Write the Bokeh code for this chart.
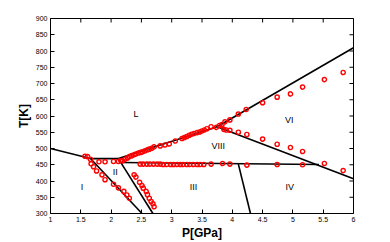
import math
from bokeh.plotting import figure
from bokeh.models import FixedTicker, Range1d
from bokeh.embed import file_html
from bokeh.resources import INLINE
from bokeh.core.properties import value

# ---- data ----
x_ticks = [1, 1.5, 2, 2.5, 3, 3.5, 4, 4.5, 5, 5.5, 6]
x_tick_labels = ["1", "1.5", "2", "2.5", "3", "3.5", "4", "4.5", "5", "5.5", "6"]
y_ticks = [300, 350, 400, 450, 500, 550, 600, 650, 700, 750, 800, 850, 900]
y_tick_labels = ["300", "350", "400", "450", "500", "550", "600", "650", "700", "750", "800", "850", "900"]

# simulated points (open red circles)
p_I_II = [1.57, 1.61, 1.66, 1.67, 1.71, 1.76, 1.85, 1.90, 2.04, 2.12, 2.21, 2.26, 2.30]
t_I_II = [476, 475, 467, 453, 444, 431, 419, 404, 390, 379, 368, 357, 347]

p_II_top = [1.80, 1.90, 2.04, 2.12, 2.16]
t_II_top = [459, 459, 460, 460, 463]

p_melt = [2.19, 2.23, 2.27, 2.30, 2.34, 2.38, 2.41, 2.45, 2.49, 2.52, 2.56, 2.60, 2.63,
          2.67, 2.71, 2.81, 2.89, 2.96, 3.06, 3.17, 3.21, 3.25, 3.29, 3.33, 3.37, 3.42,
          3.46, 3.50, 3.54, 3.58, 3.65, 3.79, 3.83, 3.88, 3.96, 4.10, 4.23, 4.50, 4.74,
          4.96, 5.16, 5.52, 5.83]
t_melt = [462, 467, 471, 475, 478, 481, 483, 486, 488, 490, 493, 496, 498,
          501, 505, 508, 511, 514, 523, 531, 534, 537, 541, 544, 546, 549,
          551, 554, 557, 561, 567, 571, 574, 582, 588, 606, 620, 641, 658,
          668, 689, 712, 734]

p_VI_VIII = [3.74, 3.86, 3.90, 3.96, 4.10, 4.24, 4.50, 4.74, 4.96, 5.16, 5.52, 5.83]
t_VI_VIII = [565, 559, 557, 556, 550, 543, 529, 513, 503, 491, 454, 432]

p_III_VIII = [2.48, 2.53, 2.59, 2.64, 2.70, 2.76, 2.81, 2.86, 2.92, 2.98, 3.03, 3.09, 3.14,
              3.19, 3.25, 3.30, 3.36, 3.42, 3.47, 3.53, 3.65, 3.84, 3.96, 4.24, 4.74, 5.16]
t_III_VIII = [452, 452, 452, 452, 452, 452, 452, 451, 451, 451, 451, 451, 451,
              451, 451, 451, 451, 451, 451, 451, 452, 454, 452, 449, 451, 450]

p_II_III = [2.38, 2.41, 2.47, 2.51, 2.53, 2.58, 2.60, 2.63, 2.66, 2.69, 2.71]
t_II_III = [419, 412, 396, 386, 378, 368, 358, 347, 337, 330, 321]

# phase boundaries (black lines)
bnd_p = [[1.0, 1.66], [1.66, 2.12], [2.12, 3.75], [3.75, 6.0], [3.75, 6.0],
         [1.66, 2.51], [2.12, 2.69], [2.17, 5.43], [4.10, 4.30]]
bnd_t = [[500, 469], [469, 469], [469, 567], [567, 810], [567, 407],
         [469, 300], [469, 300], [457, 451], [452, 300]]

# region labels
phase_names = ["L", "VI", "VIII", "II", "I", "III", "IV"]
phase_p = [2.41, 4.94, 3.77, 2.07, 1.52, 3.36, 4.95]
phase_t = [605, 588, 509, 427, 383, 381, 381]

x_min, x_max = x_ticks[0], x_ticks[-1]
y_min, y_max = y_ticks[0], y_ticks[-1]

# ---- figure ----
p = figure(width=390, height=242, output_backend="svg", toolbar_location=None,
           x_range=Range1d(x_min, x_max), y_range=Range1d(y_min, y_max),
           min_border_left=50, min_border_right=37, min_border_top=18, min_border_bottom=26)
p.grid.visible = False
p.outline_line_color = "black"
p.outline_line_width = 1
p.background_fill_color = "white"
p.border_fill_color = "white"

font = "Liberation Sans"

def style_axis(ax, ticks, labels):
    ax.ticker = FixedTicker(ticks=ticks)
    ax.major_label_overrides = {t: l for t, l in zip(ticks, labels)}
    ax.major_tick_in = 4
    ax.major_tick_out = 0
    ax.minor_tick_in = 0
    ax.minor_tick_out = 0
    ax.axis_line_color = "black"
    ax.major_tick_line_color = "black"
    ax.major_label_text_font = font
    ax.major_label_text_color = "black"
    ax.major_label_text_font_size = "7px"
    ax.major_label_standoff = 3
    ax.axis_label_text_font = font
    ax.axis_label_text_font_style = "bold"
    ax.axis_label_text_font_size = "12px"
    ax.axis_label_text_color = "black"

style_axis(p.xaxis[0], x_ticks, x_tick_labels)
style_axis(p.yaxis[0], y_ticks, y_tick_labels)
p.xaxis[0].axis_label = "P[GPa]"
p.yaxis[0].axis_label = "T[K]"
p.xaxis[0].axis_label_standoff = 1
p.yaxis[0].axis_label_standoff = 2

# mirrored inward ticks on top and right edges (clipped to the frame)
p.scatter(x=x_ticks, y=[y_max] * len(x_ticks), marker="dash", size=8,
          angle=math.pi / 2, line_color="black", line_width=1)
p.scatter(x=[x_max] * len(y_ticks), y=y_ticks, marker="dash", size=8,
          line_color="black", line_width=1)

p.multi_line(xs=bnd_p, ys=bnd_t, line_color="black", line_width=1.6)

for px_, pt_ in [(p_I_II, t_I_II), (p_II_top, t_II_top), (p_melt, t_melt),
                 (p_VI_VIII, t_VI_VIII), (p_III_VIII, t_III_VIII), (p_II_III, t_II_III)]:
    p.scatter(px_, pt_, marker="circle", size=4.2, fill_color=None,
              line_color="red", line_width=1.4)

p.text(x=phase_p, y=phase_t, text=phase_names, text_font=value(font),
       text_font_size="9px", text_align="center", text_baseline="middle",
       text_color="black")

open("out.html", "w").write(file_html(p, INLINE))
